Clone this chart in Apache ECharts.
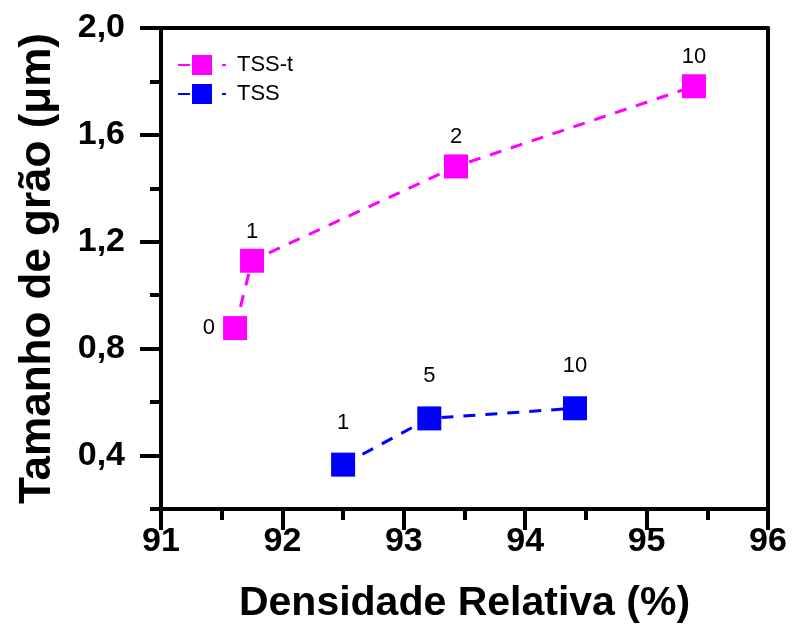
<!DOCTYPE html>
<html><head><meta charset="utf-8">
<script src="https://cdn.jsdelivr.net/npm/echarts@6/dist/echarts.min.js"></script>
<style>html,body{margin:0;padding:0;background:#fff}#c{width:794px;height:625px}</style>
</head><body><div id="c"></div>
<script>
var tssT_x = [91.61, 91.75, 93.43, 95.39];
var tssT_y = [0.877, 1.129, 1.482, 1.782];
var tssT_lbl = ['0', '1', '2', '10'];
var tss_x = [92.50, 93.21, 94.41];
var tss_y = [0.366, 0.539, 0.577];
var tss_lbl = ['1', '5', '10'];
var yMajor = [0.4, 0.8, 1.2, 1.6, 2.0];
var yMinor = [0.2, 0.6, 1.0, 1.4, 1.8];

var FONT = 'Liberation Sans, Arial, sans-serif';
function pairs(xs, ys, ls, leftIdx) {
  return xs.map(function (x, i) {
    var d = { value: [x, ys[i]], name: ls[i] };
    if (i === leftIdx) d.label = { position: 'left', distance: 8 };
    return d;
  });
}
var axisLine = { show: true, lineStyle: { color: '#000', width: 4 } };
var chart = echarts.init(document.getElementById('c'));
chart.setOption({
  animation: false,
  grid: { left: 161, right: 26, top: 28, bottom: 116, containLabel: false, outerBoundsMode: 'none' },
  legend: {
    left: 172, top: 49, orient: 'vertical', itemWidth: 48, itemHeight: 25, itemGap: 7,
    textStyle: { fontFamily: FONT, fontSize: 22, color: '#000', padding: [0, 0, 0, 6] },
    data: ['TSS-t', 'TSS']
  },
  xAxis: [{
    type: 'value', min: 91, max: 96, interval: 1,
    axisLine: axisLine,
    axisTick: { show: true, length: 21, lineStyle: { color: '#000', width: 4 } },
    minorTick: { show: true, splitNumber: 2, length: 11, lineStyle: { color: '#000', width: 4 } },
    splitLine: { show: false },
    axisLabel: { fontFamily: FONT, fontSize: 34, fontWeight: 'bold', color: '#000', margin: 16 },
    name: 'Densidade Relativa (%)', nameLocation: 'middle', nameGap: 74,
    nameTextStyle: { fontFamily: FONT, fontSize: 41, fontWeight: 'bold', color: '#000' }
  }, {
    type: 'value', position: 'top', min: 91, max: 96, interval: 1,
    axisLine: axisLine, axisTick: { show: false }, axisLabel: { show: false }, splitLine: { show: false }
  }],
  yAxis: [{
    type: 'value', min: 0.2, max: 2.0,
    axisLine: axisLine,
    axisTick: { show: true, length: 21, customValues: yMajor, lineStyle: { color: '#000', width: 4 } },
    splitLine: { show: false },
    axisLabel: {
      customValues: yMajor, fontFamily: FONT, fontSize: 34, fontWeight: 'bold', color: '#000', margin: 36,
      formatter: function (v) { return v.toFixed(1).replace('.', ','); }
    },
    name: 'Tamanho de grão (μm)', nameLocation: 'middle', nameGap: 101,
    nameTextStyle: { fontFamily: FONT, fontSize: 44, fontWeight: 'bold', color: '#000' }
  }, {
    type: 'value', position: 'left', min: 0.2, max: 2.0,
    axisLine: { show: false },
    axisTick: { show: true, length: 11, customValues: yMinor, lineStyle: { color: '#000', width: 4 } },
    axisLabel: { show: false }, splitLine: { show: false }
  }, {
    type: 'value', position: 'right', min: 0.2, max: 2.0,
    axisLine: axisLine, axisTick: { show: false }, axisLabel: { show: false }, splitLine: { show: false }
  }],
  series: [{
    name: 'TSS-t', type: 'line', xAxisIndex: 0, yAxisIndex: 0,
    data: pairs(tssT_x, tssT_y, tssT_lbl, 0),
    symbol: 'rect', symbolSize: 24,
    itemStyle: { color: '#ff00ff' },
    lineStyle: { color: '#ff00ff', width: 3, type: [12, 10] },
    label: { show: true, position: 'top', distance: 6, fontFamily: FONT, fontSize: 22, color: '#000',
      formatter: function (p) { return p.name; } }
  }, {
    name: 'TSS', type: 'line', xAxisIndex: 0, yAxisIndex: 0,
    data: pairs(tss_x, tss_y, tss_lbl, -1),
    symbol: 'rect', symbolSize: 24,
    itemStyle: { color: '#0000ff' },
    lineStyle: { color: '#0000ff', width: 3, type: [12, 10] },
    label: { show: true, position: 'top', distance: 19, fontFamily: FONT, fontSize: 22, color: '#000',
      formatter: function (p) { return p.name; } }
  }]
});
</script></body></html>
